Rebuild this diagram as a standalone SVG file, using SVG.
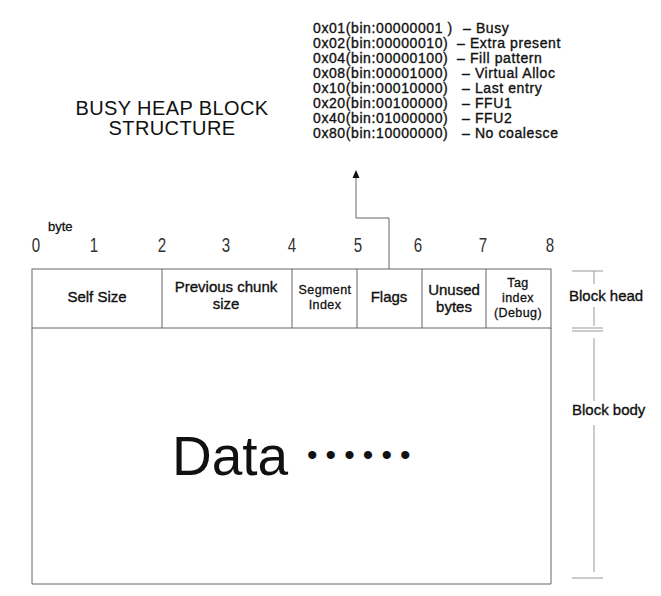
<svg xmlns="http://www.w3.org/2000/svg" width="661" height="596" viewBox="0 0 661 596">
<defs>
<style>
text{font-family:"Liberation Sans",Arial,sans-serif;fill:#111;}
.t{font-size:20px;text-anchor:middle;letter-spacing:0.4px;}
.fl{font-size:14px;letter-spacing:0.6px;stroke:#111;stroke-width:0.35px;}
.c{font-size:15px;text-anchor:middle;stroke:#111;stroke-width:0.35px;}
.s{font-size:12.5px;text-anchor:middle;letter-spacing:0.4px;stroke:#111;stroke-width:0.3px;}
.lb{font-size:15px;stroke:#111;stroke-width:0.35px;}
.d{font-size:21px;text-anchor:middle;fill:#333;}
.ln{stroke:#666;stroke-width:1;fill:none;}
.br{stroke:#999;stroke-width:1;fill:none;}
</style>
</defs>
<rect width="661" height="596" fill="#fff"/>

<g id="title">
<text class="t" x="172" y="115">BUSY HEAP BLOCK</text>
<text class="t" x="172" y="135">STRUCTURE</text>
</g>

<g id="flag-list">
<text class="fl" x="313" y="33">0x01(bin:00000001 )<tspan x="463">– Busy</tspan></text>
<text class="fl" x="313" y="48">0x02(bin:00000010)<tspan x="457">– Extra present</tspan></text>
<text class="fl" x="313" y="63">0x04(bin:00000100)<tspan x="457">– Fill pattern</tspan></text>
<text class="fl" x="313" y="78">0x08(bin:00001000)<tspan x="462">– Virtual Alloc</tspan></text>
<text class="fl" x="313" y="93">0x10(bin:00010000)<tspan x="462">– Last entry</tspan></text>
<text class="fl" x="313" y="108">0x20(bin:00100000)<tspan x="462">– FFU1</tspan></text>
<text class="fl" x="313" y="123">0x40(bin:01000000)<tspan x="462">– FFU2</tspan></text>
<text class="fl" x="313" y="138">0x80(bin:10000000)<tspan x="462">– No coalesce</tspan></text>
</g>

<g id="byte-scale">
<text x="48" y="231" style="font-size:13px;stroke:#111;stroke-width:0.3px">byte</text>
<text class="d" transform="translate(36,252) scale(0.72,1)">0</text>
<text class="d" transform="translate(94,252) scale(0.72,1)">1</text>
<text class="d" transform="translate(162,252) scale(0.72,1)">2</text>
<text class="d" transform="translate(226,252) scale(0.72,1)">3</text>
<text class="d" transform="translate(292,252) scale(0.72,1)">4</text>
<text class="d" transform="translate(358,252) scale(0.72,1)">5</text>
<text class="d" transform="translate(418,252) scale(0.72,1)">6</text>
<text class="d" transform="translate(483,252) scale(0.72,1)">7</text>
<text class="d" transform="translate(550,252) scale(0.72,1)">8</text>
</g>

<g id="block-head">
<rect class="ln" x="32" y="269" width="519" height="59"/>
<line class="ln" x1="162" y1="269" x2="162" y2="328"/>
<line class="ln" x1="292" y1="269" x2="292" y2="328"/>
<line class="ln" x1="357" y1="269" x2="357" y2="328"/>
<line class="ln" x1="422" y1="269" x2="422" y2="328"/>
<line class="ln" x1="486" y1="269" x2="486" y2="328"/>
</g>

<g id="self-size"><text class="c" x="97" y="302">Self Size</text></g>
<g id="prev-size"><text class="c" x="226" y="292">Previous chunk</text><text class="c" x="226" y="309">size</text></g>
<g id="segment-index"><text class="s" x="325" y="294">Segment</text><text class="s" x="325" y="309">Index</text></g>
<g id="flags"><text class="c" x="389" y="302">Flags</text></g>
<g id="unused-bytes"><text class="c" x="454" y="295">Unused</text><text class="c" x="454" y="312">bytes</text></g>
<g id="tag-index"><text class="s" x="518" y="287">Tag</text><text class="s" x="518" y="302">index</text><text class="s" x="518" y="317">(Debug)</text></g>

<g id="block-body">
<path class="ln" d="M32,328 V584 H551 V328"/>
<text x="172" y="475" style="font-size:55px">Data</text>
<text x="307" y="465" style="font-size:30px;letter-spacing:8.1px">••••••</text>
</g>

<g id="labels">
<line class="br" x1="572" y1="271" x2="603" y2="271"/>
<line class="br" x1="594" y1="271" x2="594" y2="284"/>
<text class="lb" x="569" y="301">Block head</text>
<line class="br" x1="594" y1="307" x2="594" y2="326"/>
<line class="br" x1="572" y1="328" x2="603" y2="328"/>
<line class="br" x1="572" y1="331" x2="603" y2="331"/>
<line class="br" x1="594" y1="338" x2="594" y2="401"/>
<text class="lb" x="572" y="415">Block body</text>
<line class="br" x1="594" y1="425" x2="594" y2="572"/>
<line class="br" x1="572" y1="578" x2="603" y2="578"/>
</g>

<g id="connectors">
<path class="ln" d="M389,269 V218 H356 V177"/>
<polygon points="356,170 352.5,178 359.5,178" fill="#111"/>
</g>
</svg>
